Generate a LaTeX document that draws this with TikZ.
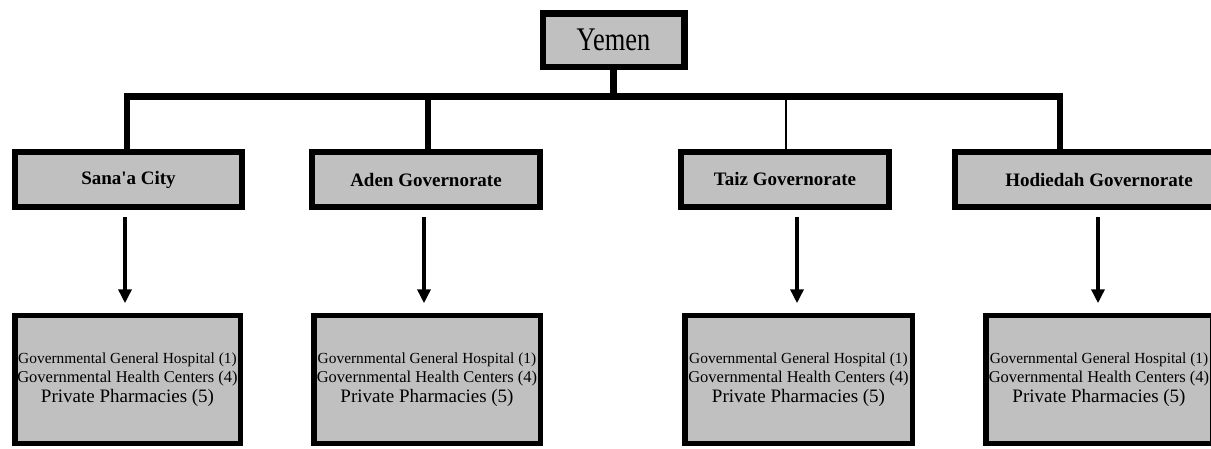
\documentclass[tikz,border=0pt]{standalone}
\usepackage{fontspec}
\setmainfont{Liberation Serif}
\usetikzlibrary{arrows.meta}
\definecolor{boxgray}{HTML}{C0C0C0}
\begin{document}
\begin{tikzpicture}[x=1pt,y=-1pt,
  topbox/.style={draw=black,fill=boxgray,line width=6.5pt,minimum width=141.5pt,minimum height=53.5pt,inner sep=0pt},
  govbox/.style={draw=black,fill=boxgray,line width=6pt,minimum height=55pt,inner sep=0pt,font=\fontsize{19}{22}\selectfont\bfseries},
  facbox/.style={draw=black,fill=boxgray,line width=5.5pt,minimum height=128pt,inner sep=0pt,align=center,font=\fontsize{15.4}{19.5}\selectfont},
  conn/.style={line width=6.3pt,line join=miter},
  thinconn/.style={line width=2.5pt},
  flow/.style={line width=4.5pt,shorten <=7pt,shorten >=9.5pt,-{Triangle[length=14pt,width=13pt]}},
]
\useasboundingbox (0,0) rectangle (1211,448);
\clip (0,0) rectangle (1211,448);

% top
\node[topbox] (yemen) at (613.5,40) {\scalebox{0.8}[1]{\fontsize{33}{36}\selectfont Yemen}};

% governorates
\node[govbox, minimum width=227pt] (sanaa) at (128.5,179.5) {Sana\textquotesingle a City};
\node[govbox, minimum width=228pt] (aden) at (426,179.5) {Aden Governorate};
\node[govbox, minimum width=208pt] (taiz) at (785,179) {Taiz Governorate};
\node[govbox, minimum width=288pt] (hod) at (1099,179.5) {Hodiedah Governorate};

% facilities
\newcommand{\faclines}{{\fontsize{15.4}{19.5}\selectfont Governmental General Hospital (1)}\\{\fontsize{16.5}{19.5}\selectfont Governmental Health Centers (4)}\\{\fontsize{19}{19.5}\selectfont Private Pharmacies (5)}}
\node[facbox, minimum width=225.5pt] (f1) at (127.5,379.5) {\faclines};
\node[facbox, minimum width=226.5pt] (f2) at (427,379.5) {\faclines};
\node[facbox, minimum width=227.5pt] (f3) at (798.5,379.5) {\faclines};
\node[facbox, minimum width=226.5pt] (f4) at (1099,379.5) {\faclines};

% bar coordinates
\coordinate (bar) at (613.5,96.5);
\coordinate (sL) at (127,96.5);
\coordinate (aS) at (428,96.5);
\coordinate (tS) at (786,96.5);
\coordinate (hR) at (1060,96.5);

\draw[conn] (yemen.south) -- (bar);
\draw[conn] (sL |- sanaa.north) -- (sL) -- (hR) -- (hR |- hod.north);
\draw[conn] (aS |- aden.north) -- (aS);
\draw[thinconn] (tS |- taiz.north) -- (tS);

% arrows
\coordinate (a1) at (125,0);
\coordinate (a2) at (424,0);
\coordinate (a3) at (797,0);
\coordinate (a4) at (1098,0);
\draw[flow] (a1 |- sanaa.south) -- (a1 |- f1.north);
\draw[flow] (a2 |- aden.south) -- (a2 |- f2.north);
\draw[flow] (a3 |- taiz.south) -- (a3 |- f3.north);
\draw[flow] (a4 |- hod.south) -- (a4 |- f4.north);
\end{tikzpicture}
\end{document}
